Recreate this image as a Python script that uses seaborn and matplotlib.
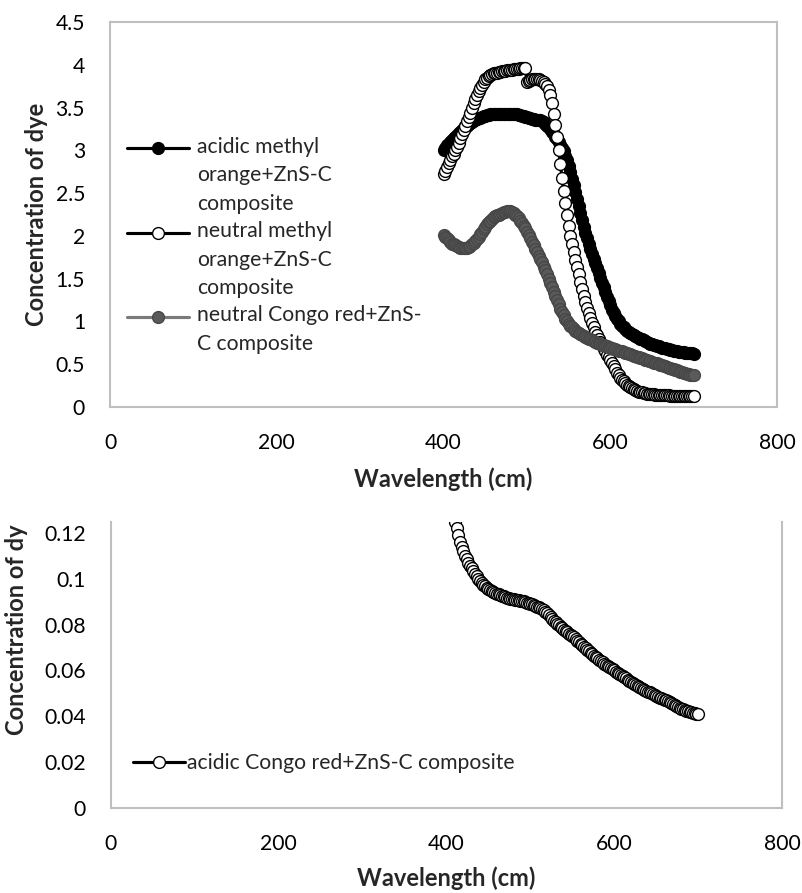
import numpy as np
import pandas as pd
import matplotlib
matplotlib.use("Agg")
import matplotlib.pyplot as plt
from matplotlib.legend_handler import HandlerLine2D
from matplotlib.ticker import MultipleLocator, FuncFormatter
import seaborn as sns

# wavelength grid of the scan (nm, labelled "cm" in the original chart)
wavelength = np.arange(400, 701, 2)

# values, one per wavelength step
acidic_mo = [
    3.00, 3.03, 3.06, 3.08, 3.10, 3.12, 3.14, 3.16, 3.18, 3.20,
    3.22, 3.24, 3.26, 3.28, 3.29, 3.31, 3.32, 3.33, 3.35, 3.36,
    3.37, 3.38, 3.38, 3.39, 3.40, 3.40, 3.41, 3.41, 3.42, 3.42,
    3.42, 3.43, 3.43, 3.43, 3.43, 3.43, 3.43, 3.43, 3.43, 3.43,
    3.43, 3.42, 3.42, 3.42, 3.42, 3.41, 3.41, 3.40, 3.40, 3.39,
    3.39, 3.38, 3.38, 3.37, 3.37, 3.36, 3.36, 3.35, 3.35, 3.34,
    3.33, 3.31, 3.29, 3.27, 3.25, 3.22, 3.19, 3.16, 3.13, 3.10,
    3.06, 3.03, 2.99, 2.94, 2.89, 2.82, 2.75, 2.67, 2.59, 2.51,
    2.43, 2.35, 2.27, 2.19, 2.11, 2.04, 1.97, 1.91, 1.85, 1.79,
    1.73, 1.68, 1.63, 1.57, 1.51, 1.45, 1.40, 1.34, 1.29, 1.24,
    1.19, 1.14, 1.10, 1.06, 1.03, 1.00, 0.97, 0.95, 0.93, 0.91,
    0.89, 0.88, 0.86, 0.85, 0.84, 0.83, 0.82, 0.81, 0.80, 0.79,
    0.78, 0.77, 0.76, 0.75, 0.74, 0.735, 0.73, 0.72, 0.715, 0.71,
    0.70, 0.695, 0.69, 0.685, 0.68, 0.675, 0.67, 0.665, 0.66, 0.655,
    0.65, 0.647, 0.644, 0.641, 0.638, 0.635, 0.632, 0.63, 0.628, 0.626,
    0.625,
]

neutral_mo = [
    2.72, 2.76, 2.81, 2.85, 2.89, 2.93, 2.96, 3.00, 3.04, 3.09,
    3.14, 3.19, 3.24, 3.29, 3.34, 3.39, 3.44, 3.50, 3.55, 3.60,
    3.65, 3.69, 3.73, 3.77, 3.80, 3.83, 3.85, 3.87, 3.88, 3.89,
    3.90, 3.91, 3.91, 3.92, 3.92, 3.93, 3.93, 3.93, 3.94, 3.94,
    3.94, 3.94, 3.95, 3.95, 3.95, 3.95, 3.96, 3.96, 3.96, 3.96,
    3.80, 3.81, 3.82, 3.83, 3.83, 3.83, 3.83, 3.83, 3.82, 3.81,
    3.80, 3.78, 3.75, 3.71, 3.65, 3.55, 3.43, 3.30, 3.16, 3.00,
    2.84, 2.68, 2.53, 2.39, 2.25, 2.12, 2.00, 1.90, 1.81, 1.72,
    1.64, 1.55, 1.46, 1.38, 1.30, 1.23, 1.16, 1.10, 1.04, 0.98,
    0.93, 0.88, 0.84, 0.80, 0.76, 0.72, 0.68, 0.65, 0.61, 0.58,
    0.55, 0.51, 0.48, 0.44, 0.40, 0.37, 0.34, 0.32, 0.30, 0.28,
    0.26, 0.25, 0.23, 0.22, 0.21, 0.20, 0.19, 0.18, 0.175, 0.17,
    0.165, 0.16, 0.158, 0.155, 0.152, 0.15, 0.148, 0.146, 0.144, 0.142,
    0.14, 0.139, 0.138, 0.137, 0.136, 0.135, 0.134, 0.133, 0.133, 0.132,
    0.132, 0.131, 0.131, 0.130, 0.130, 0.130, 0.130, 0.130, 0.130, 0.130,
    0.130,
]

neutral_cr = [
    2.01, 1.99, 1.97, 1.95, 1.93, 1.91, 1.90, 1.89, 1.88, 1.87,
    1.86, 1.86, 1.86, 1.86, 1.86, 1.87, 1.88, 1.90, 1.92, 1.94,
    1.96, 1.99, 2.02, 2.05, 2.08, 2.11, 2.14, 2.16, 2.18, 2.20,
    2.22, 2.23, 2.24, 2.25, 2.26, 2.27, 2.28, 2.28, 2.29, 2.29,
    2.29, 2.28, 2.27, 2.25, 2.23, 2.21, 2.18, 2.15, 2.12, 2.09,
    2.05, 2.01, 1.97, 1.93, 1.89, 1.85, 1.81, 1.77, 1.73, 1.69,
    1.64, 1.60, 1.55, 1.50, 1.45, 1.40, 1.35, 1.30, 1.25, 1.20,
    1.15, 1.11, 1.07, 1.03, 1.00, 0.97, 0.95, 0.93, 0.91, 0.89,
    0.88, 0.86, 0.85, 0.84, 0.83, 0.82, 0.81, 0.80, 0.79, 0.78,
    0.77, 0.76, 0.75, 0.745, 0.74, 0.73, 0.72, 0.715, 0.71, 0.70,
    0.695, 0.69, 0.68, 0.675, 0.67, 0.66, 0.655, 0.65, 0.64, 0.635,
    0.63, 0.62, 0.615, 0.61, 0.60, 0.595, 0.59, 0.58, 0.575, 0.57,
    0.56, 0.555, 0.55, 0.54, 0.535, 0.53, 0.52, 0.515, 0.51, 0.50,
    0.495, 0.49, 0.48, 0.475, 0.47, 0.46, 0.455, 0.45, 0.44, 0.435,
    0.43, 0.42, 0.415, 0.41, 0.40, 0.395, 0.39, 0.385, 0.38, 0.38,
    0.375,
]

acidic_cr = [
    0.145, 0.140, 0.136, 0.132, 0.128, 0.125, 0.122, 0.119, 0.116, 0.114,
    0.112, 0.110, 0.1085, 0.107, 0.1058, 0.1045, 0.1033, 0.1022, 0.1011, 0.1000,
    0.0991, 0.0982, 0.0974, 0.0967, 0.0961, 0.0955, 0.0950, 0.0945, 0.0941, 0.0938,
    0.0935, 0.0932, 0.0929, 0.0926, 0.0923, 0.0920, 0.0918, 0.0916, 0.0914, 0.0912,
    0.0910, 0.0909, 0.0907, 0.0906, 0.0905, 0.0903, 0.0901, 0.0899, 0.0896, 0.0893,
    0.0890, 0.0888, 0.0885, 0.0882, 0.0879, 0.0876, 0.0873, 0.0868, 0.0862, 0.0856,
    0.0849, 0.0842, 0.0834, 0.0826, 0.0818, 0.0810, 0.0803, 0.0797, 0.0790, 0.0784,
    0.0778, 0.0772, 0.0766, 0.0760, 0.0754, 0.0749, 0.0744, 0.0737, 0.0730, 0.0723,
    0.0716, 0.0709, 0.0702, 0.0696, 0.0690, 0.0684, 0.0677, 0.0671, 0.0665, 0.0659,
    0.0653, 0.0647, 0.0641, 0.0636, 0.0630, 0.0625, 0.0620, 0.0615, 0.0610, 0.0605,
    0.0600, 0.0595, 0.0590, 0.0585, 0.0580, 0.0575, 0.0570, 0.0565, 0.0560, 0.0555,
    0.0550, 0.0545, 0.0540, 0.0536, 0.0532, 0.0528, 0.0524, 0.0520, 0.0516, 0.0512,
    0.0508, 0.0504, 0.0500, 0.0496, 0.0492, 0.0488, 0.0485, 0.0482, 0.0479, 0.0476,
    0.0473, 0.0470, 0.0467, 0.0464, 0.0460, 0.0455, 0.0450, 0.0446, 0.0442, 0.0438,
    0.0434, 0.0431, 0.0428, 0.0425, 0.0422, 0.0419, 0.0417, 0.0415, 0.0413, 0.0411,
    0.0410,
]

top_labels = [
    "acidic methyl\norange+ZnS-C\ncomposite",
    "neutral methyl\norange+ZnS-C\ncomposite",
    "neutral Congo red+ZnS-\nC composite",
]
bottom_label = "acidic Congo red+ZnS-C composite"

sns.set_style("white")
plt.rcParams['font.family'] = ['Lato', 'DejaVu Sans']

FS = 15.2        # ticks and legend
FS_LAB = 17      # bold axis titles
FRAME = '#bfbfbf'
PITCH_PT = 19.8  # line pitch of the legend text, in points


class FirstLineHandler(HandlerLine2D):
    """Put the legend handle next to the first line of a multi-line label."""
    def __init__(self, shift=0.0, **kw):
        super().__init__(**kw)
        self.shift = shift

    def create_artists(self, *args, **kwargs):
        artists = super().create_artists(*args, **kwargs)
        for a in artists:
            a.set_ydata(np.asarray(a.get_ydata()) + self.shift)
        return artists


df = pd.DataFrame({
    'wavelength': wavelength,
    'acidic_mo': acidic_mo,
    'neutral_mo': neutral_mo,
    'neutral_cr': neutral_cr,
    'acidic_cr': acidic_cr,
})

fig = plt.figure(figsize=(8.02, 8.93), dpi=100)
ax1 = fig.add_axes([0.1372, 0.5442, 0.8317, 0.4311])
ax2 = fig.add_axes([0.1384, 0.0952, 0.8367, 0.3203])

common = dict(estimator=None, errorbar=None, marker='o', markersize=8.5,
              markeredgewidth=1.0, linewidth=2.25)

sns.lineplot(data=df, x='wavelength', y='acidic_mo', ax=ax1, color='black',
             markerfacecolor='black', markeredgecolor='black', **common)
sns.lineplot(data=df, x='wavelength', y='neutral_mo', ax=ax1, color='black',
             markerfacecolor='white', markeredgecolor='black', **common)
sns.lineplot(data=df, x='wavelength', y='neutral_cr', ax=ax1, color='#7a7a7a',
             markerfacecolor='#5a5a5a', markeredgecolor='#474747', **common)
sns.lineplot(data=df, x='wavelength', y='acidic_cr', ax=ax2, color='black',
             markerfacecolor='white', markeredgecolor='black', **common)

fmt = FuncFormatter(lambda v, p: f"{v:g}")
for ax in (ax1, ax2):
    ax.set_xlim(0, 800)
    ax.xaxis.set_major_locator(MultipleLocator(200))
    ax.xaxis.set_major_formatter(fmt)
    ax.yaxis.set_major_formatter(fmt)
    ax.tick_params(axis='both', length=0, labelsize=FS, colors='black')
    ax.tick_params(axis='x', pad=19)
    ax.tick_params(axis='y', pad=18)
    for s in ax.spines.values():
        s.set_color(FRAME)
        s.set_linewidth(1.5)
    ax.grid(False)

ax1.set_ylim(0, 4.5)
ax1.yaxis.set_major_locator(MultipleLocator(0.5))
ax2.set_ylim(0, 0.1248)
ax2.yaxis.set_major_locator(MultipleLocator(0.02))
ax2.spines['top'].set_visible(False)

ax1.set_xlabel('Wavelength (cm)', fontsize=FS_LAB, fontweight='bold')
ax1.set_ylabel('Concentration of dye', fontsize=FS_LAB, fontweight='bold')
ax1.xaxis.set_label_coords(0.5, -0.158)
ax1.yaxis.set_label_coords(-0.093, 0.5)

ax2.set_xlabel('Wavelength (cm)', fontsize=FS_LAB, fontweight='bold')
ax2.set_ylabel('Concentration of dy', fontsize=FS_LAB, fontweight='bold')
ax2.xaxis.set_label_coords(0.5, -0.203)
ax2.yaxis.set_label_coords(-0.124, 0.622)

lines1 = ax1.get_lines()[:3]
hmap = {}
for ln, lab in zip(lines1, top_labels):
    n = lab.count("\n") + 1
    hmap[ln] = FirstLineHandler(shift=(n - 1) / 2 * PITCH_PT)
leg1 = ax1.legend(handles=lines1, labels=top_labels, loc='upper left',
                  bbox_to_anchor=(0.0255, 0.702), frameon=False, fontsize=FS,
                  handlelength=2.95, handletextpad=0.38, labelspacing=0.35,
                  borderpad=0, borderaxespad=0, numpoints=1, handler_map=hmap)
for t in leg1.get_texts():
    t.set_linespacing(1.53)

ax2.legend(handles=ax2.get_lines()[:1], labels=[bottom_label], loc='center left',
           bbox_to_anchor=(0.033, 0.157), frameon=False, fontsize=FS,
           handlelength=2.45, handletextpad=0.12, borderpad=0, borderaxespad=0,
           numpoints=1)

fig.savefig('out.png', dpi=100)
